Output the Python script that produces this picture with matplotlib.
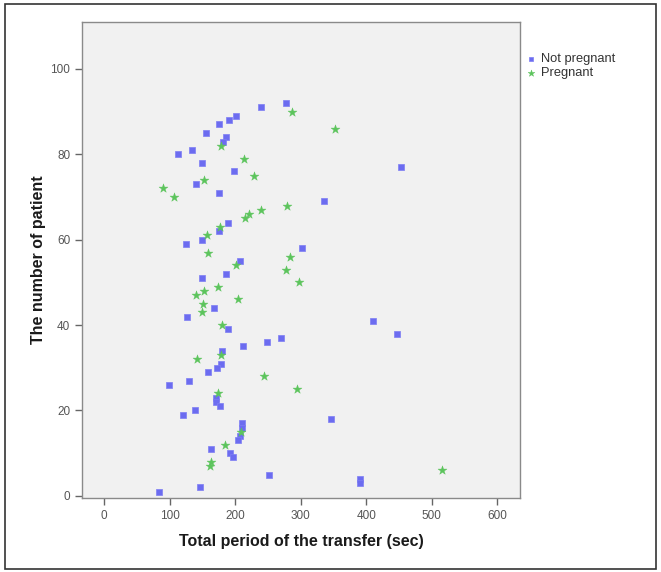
import matplotlib
matplotlib.use("Agg")
import matplotlib.pyplot as plt
from matplotlib.patches import Rectangle

# Not pregnant (blue squares)
np_x = [278, 240, 201, 190, 176, 155, 186, 182, 134, 112, 150, 454, 198, 140, 176, 336,
        189, 176, 150, 125, 302, 207, 186, 150, 168, 126, 410, 189, 447, 270, 248, 212,
        180, 178, 172, 158, 129, 99, 170, 171, 177, 139, 120, 347, 211, 210, 207, 205,
        163, 192, 197, 252, 391, 391, 146, 84]
np_y = [92, 91, 89, 88, 87, 85, 84, 83, 81, 80, 78, 77, 76, 73, 71, 69,
        64, 62, 60, 59, 58, 55, 52, 51, 44, 42, 41, 39, 38, 37, 36, 35,
        34, 31, 30, 29, 27, 26, 23, 22, 21, 20, 19, 18, 17, 16, 14, 13,
        11, 10, 9, 5, 4, 3, 2, 1]

# Pregnant (green stars)
p_x = [287, 353, 178, 214, 229, 153, 90, 106, 279, 239, 221, 215, 177, 157, 158, 283,
       201, 278, 298, 173, 152, 140, 205, 151, 150, 180, 179, 141, 244, 294, 174, 209,
       185, 163, 162, 516]
p_y = [90, 86, 82, 79, 75, 74, 72, 70, 68, 67, 66, 65, 63, 61, 57, 56,
       54, 53, 50, 49, 48, 47, 46, 45, 43, 40, 33, 32, 28, 25, 24, 15,
       12, 8, 7, 6]

labels = ["Not pregnant", "Pregnant"]
x_ticks = [0, 100, 200, 300, 400, 500, 600]
y_ticks = [0, 20, 40, 60, 80, 100]

plt.rcParams['font.family'] = ['Liberation Sans', 'DejaVu Sans']

fig = plt.figure(figsize=(6.61, 5.72), dpi=100)
fig.patch.set_facecolor('white')
fig.add_artist(Rectangle((5/661, 1 - 569/572), 651/661, 565/572, transform=fig.transFigure,
                         fill=False, edgecolor='#333333', linewidth=1.2))

ax = fig.add_axes([82/661, 1 - 498/572, (520 - 82)/661, (498 - 22)/572])
ax.set_facecolor('#f1f1f1')

ax.scatter(np_x, np_y, marker='s', s=14, color='#6c6cf0', edgecolors='#7e7ef4',
           linewidths=0.5, label=labels[0], zorder=3)
ax.scatter(p_x, p_y, marker='*', s=45, color='#5cc45c', edgecolors='#5cc45c',
           linewidths=0.3, label=labels[1], zorder=3)

ax.set_xlim(-34, 635)
ax.set_ylim(-0.5, 111)
ax.set_xticks(x_ticks)
ax.set_yticks(y_ticks)
for s in ax.spines.values():
    s.set_color('#8a8a8a')
    s.set_linewidth(1.0)
ax.tick_params(axis='both', colors='#666666', labelcolor='#555555', labelsize=8.5,
               length=5, width=1.0)

ax.set_xlabel("Total period of the transfer (sec)", fontsize=11.5, fontweight='bold',
              color='#1a1a1a', labelpad=9)
ax.set_ylabel("The number of patient", fontsize=11.5, fontweight='bold',
              color='#1a1a1a', labelpad=3)

leg = ax.legend(loc='upper left', bbox_to_anchor=(1.0, 0.946), frameon=False,
                fontsize=9.3, handletextpad=0.35, labelspacing=0.15, borderaxespad=0,
                markerscale=0.75, handlelength=0.9)
for t in leg.get_texts():
    t.set_color('#333333')

fig.savefig("out.png", dpi=100)
